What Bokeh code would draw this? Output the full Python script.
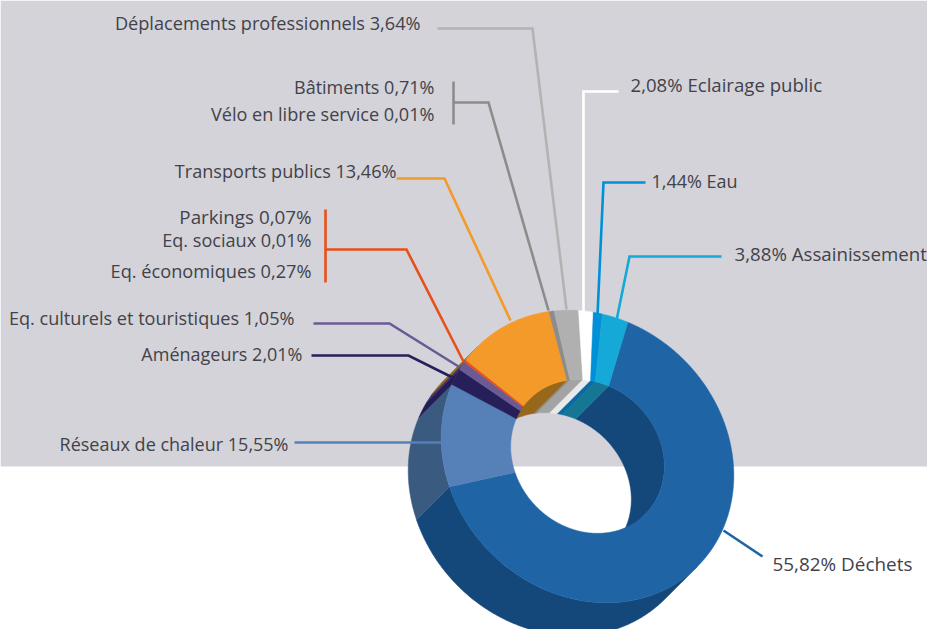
import numpy as np
from bokeh.plotting import figure
from bokeh.models import Range1d
from bokeh.core.properties import value
from bokeh.embed import file_html
from bokeh.resources import INLINE

# ---- data (clockwise, starting with the largest slice)
categories = ["Déchets", "Réseaux de chaleur", "Aménageurs", "Eq. culturels et touristiques",
              "Eq. économiques", "Eq. sociaux", "Parkings", "Transports publics",
              "Vélo en libre service", "Bâtiments", "Déplacements professionnels",
              "Eclairage public", "Eau", "Assainissement"]
shares = [55.82, 15.55, 2.01, 1.05, 0.27, 0.01, 0.07, 13.46, 0.01, 0.71, 3.64, 2.08, 1.44, 3.88]

# ---- styles
top_colors = ["#1f65a6", "#5580b8", "#271f5a", "#6b5b95", "#e8501a", "#e8501a", "#e8501a", "#f39a2a",
              "#8c8c8c", "#8c8c8c", "#b0b0b0", "#ffffff", "#0090d8", "#14a9d6"]
outer_wall = ["#14477a", "#3b5a80", "#231c55", "#3a2f6e", "#8a5f1c", "#8a5f1c", "#8a5f1c", "#97671c",
              "#777777", "#777777", "#909090", "#cccccc", "#0a6aa5", "#157794"]
inner_wall = ["#14477a", "#3b5a80", "#231c55", "#3a2f6e", "#8a5f1c", "#8a5f1c", "#8a5f1c", "#97671c",
              "#8c8c8c", "#8c8c8c", "#a3a3a3", "#e9e9e9", "#0a6aa5", "#157794"]

# the drawing is a perspective view: share of the turn -> angle seen on the page
view_share = [0, 55.82, 71.37, 74.43, 74.78, 88.24, 92.6, 94.68, 96.12, 100]
view_angle = [16.7, 257.6, 298, 307.5, 308.4, 345.2, 356.5, 362.3, 366, 376.7]

CX, CY = 587.0, 456.0
A, B = 155.5, 136.5
HOLE = 0.525
DX, DY = -33.0, 33.0


def radius(ang, a, b):
    t = np.radians(ang)
    dx, dy = np.sin(t), -np.cos(t)
    u = (dx + dy) / np.sqrt(2)
    v = (dx - dy) / np.sqrt(2)
    return 1 / np.sqrt(u * u / (a * a) + v * v / (b * b))


def arc(a0, a1, scale):
    n = max(2, int(abs(a1 - a0) * 2) + 2)
    ang = np.linspace(a0, a1, n)
    r = radius(ang, A * scale, B * scale)
    t = np.radians(ang)
    return CX + r * np.sin(t), CY - r * np.cos(t)


def wall(a0, a1, scale):
    x, y = arc(a0, a1, scale)
    return list(x) + list((x + DX)[::-1]), list(y) + list((y + DY)[::-1])


cum = np.concatenate([[0], np.cumsum(shares)])
cum = cum * 100 / cum[-1]
angles = np.interp(cum, view_share, view_angle)

top_x, top_y = [], []
ow_x, ow_y, ow_c = [], [], []
iw_x, iw_y, iw_c = [], [], []
for i in range(len(shares)):
    a0, a1 = angles[i], angles[i + 1]
    ox, oy = arc(a0, a1, 1.0)
    ix, iy = arc(a0, a1, HOLE)
    top_x.append(list(ox) + list(ix[::-1]))
    top_y.append(list(oy) + list(iy[::-1]))
    # outer wall is visible between the two ends of the long axis, lower-left side
    b0, b1 = max(a0, 135), min(a1, 315)
    if b1 > b0:
        x, y = wall(b0, b1, 1.0)
        ow_x.append(x); ow_y.append(y); ow_c.append(outer_wall[i])
    # inner wall is visible on the opposite side
    for off in (0, 360):
        c0, c1 = max(a0 + off, 315), min(a1 + off, 495)
        if c1 > c0:
            x, y = wall(c0, c1, HOLE)
            iw_x.append(x); iw_y.append(y); iw_c.append(inner_wall[i])


def label(i, left_value=False):
    v = f"{shares[i]:.2f}".replace(".", ",") + "%"
    return f"{v} {categories[i]}" if left_value else f"{categories[i]} {v}"


# ---- page layout
W, H = 927, 629
p = figure(width=W, height=H, x_range=Range1d(0, W), y_range=Range1d(H, 0),
           output_backend="svg", toolbar_location=None, min_border=0,
           outline_line_color=None, background_fill_color="#ffffff")
p.axis.visible = False
p.grid.visible = False

p.quad(left=[0], right=[W], top=[0], bottom=[466], fill_color="#d4d3d9", line_color=None)

p.patches(ow_x, ow_y, fill_color=ow_c, line_color=ow_c, line_width=0.5)

# leaders run over the outer wall and stop under the top face
leaders = [
    ("#b3b3b3", [437, 532, 566], [28, 28, 309]),
    ("#8c8c8c", [453, 453], [81, 124]),
    ("#8c8c8c", [453, 488, 548], [102, 102, 310]),
    ("#f39a2a", [396, 444, 510], [178, 178, 320]),
    ("#e8501a", [325, 325], [209, 282]),
    ("#e8501a", [325, 406, 463], [249, 249, 361]),
    ("#6b5b95", [313, 389, 458], [323, 323, 366]),
    ("#271f5a", [311, 408, 452], [355, 355, 377]),
    ("#5580b8", [294, 445], [442, 442]),
    ("#1f65a6", [723, 762], [530, 556]),
    ("#ffffff", [618, 583, 583], [91, 91, 312]),
    ("#0090d8", [645, 603, 597], [182, 182, 315]),
    ("#14a9d6", [721, 629, 616], [256, 256, 320]),
]
for c, xs, ys in leaders:
    p.line(xs, ys, line_color=c, line_width=2.6, line_join="miter")

p.patches(iw_x, iw_y, fill_color=iw_c, line_color=iw_c, line_width=0.5)
p.patches(top_x, top_y, fill_color=top_colors, line_color=top_colors, line_width=0.5)

FONT = "Open Sans"
TXT = "#42424a"
# (category index, anchor x, centre y, font px)
right_labels = [(10, 420, 22.5, 18.15), (9, 434, 86.5, 18), (8, 434, 113.5, 18.1), (7, 396, 170.5, 18.1),
                (6, 311, 216.5, 18.8), (5, 311, 239.5, 18.1), (4, 311, 270.5, 18.2), (3, 294, 317.5, 18.1),
                (2, 302, 353.5, 18), (1, 288, 443.5, 18)]
left_labels = [(11, 630, 83.5, 18.6), (12, 651, 180.5, 18), (13, 734, 252.5, 18.7), (0, 772, 563.5, 18.9)]
p.text([r[1] for r in right_labels], [r[2] for r in right_labels], text=[label(r[0]) for r in right_labels],
       text_font=value(FONT), text_font_size=[f"{r[3]}px" for r in right_labels], text_color=TXT,
       text_align="right", text_baseline="middle")
p.text([r[1] for r in left_labels], [r[2] for r in left_labels], text=[label(r[0], True) for r in left_labels],
       text_font=value(FONT), text_font_size=[f"{r[3]}px" for r in left_labels], text_color=TXT,
       text_align="left", text_baseline="middle")

open("out.html", "w").write(file_html(p, INLINE))
